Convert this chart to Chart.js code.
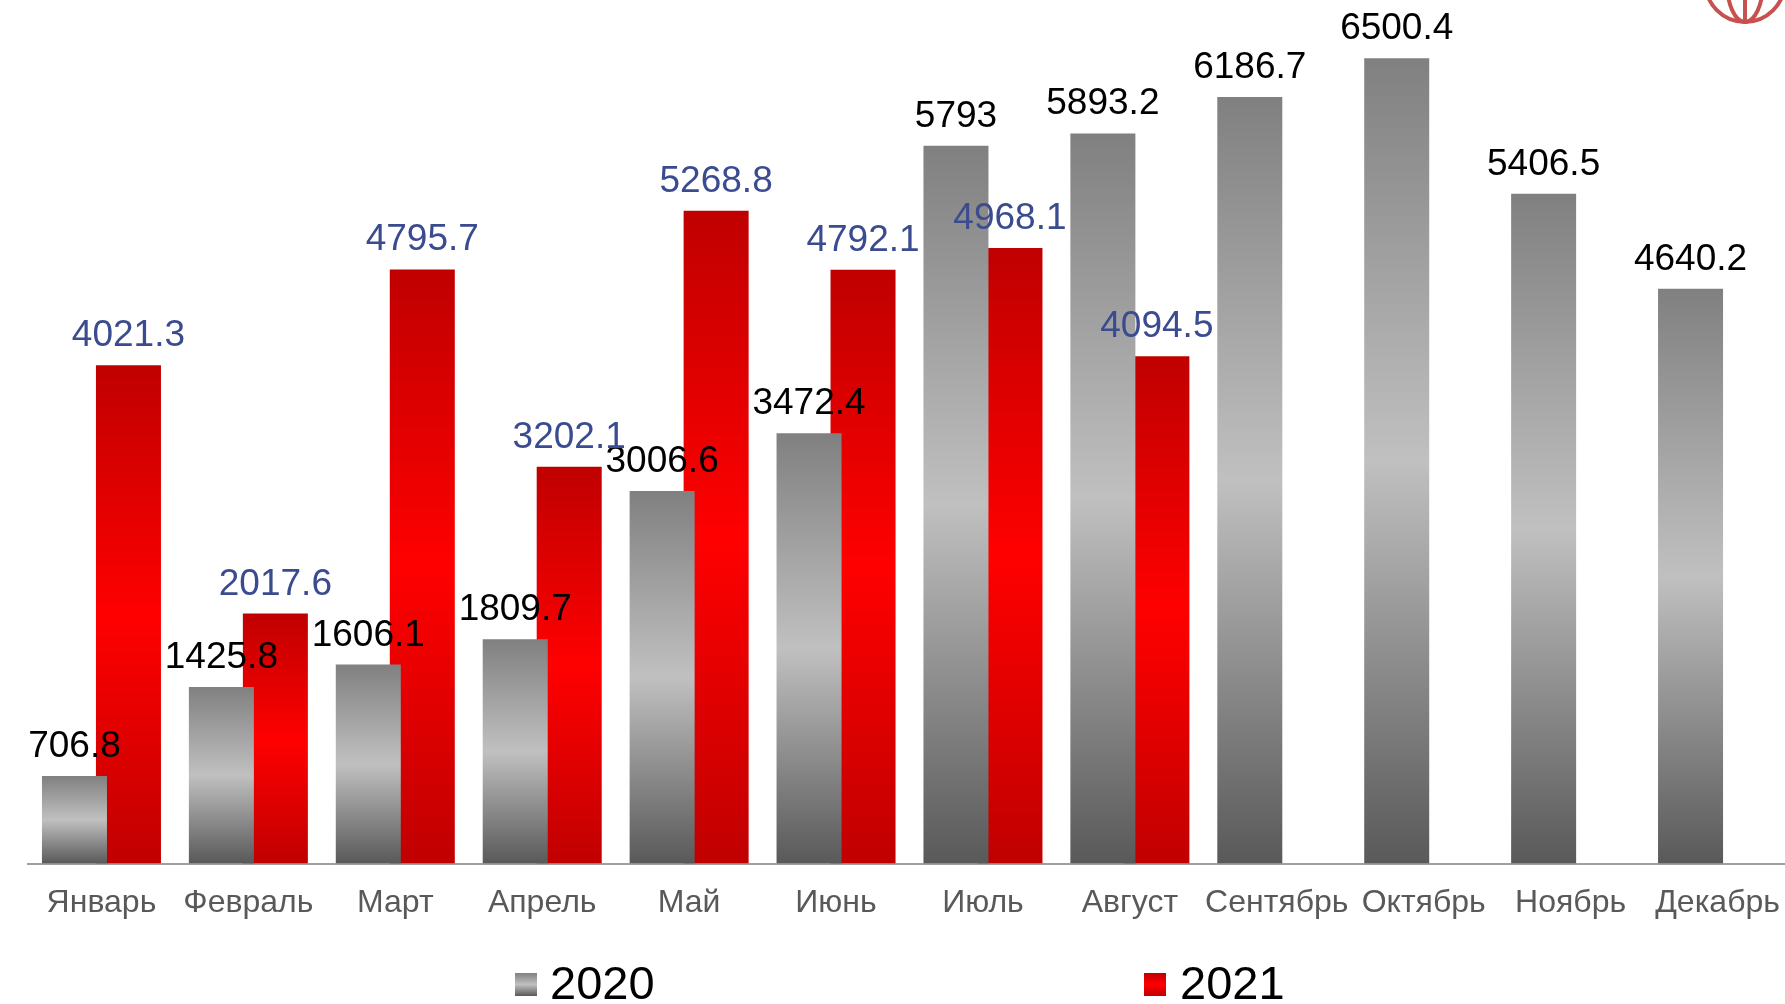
<!DOCTYPE html>
<html lang="ru">
<head>
<meta charset="utf-8">
<title>2020 / 2021</title>
<script src="https://cdn.jsdelivr.net/npm/chart.js@4.4.1/dist/chart.umd.min.js"></script>
<style>
  html, body { margin: 0; padding: 0; background: #fff; overflow: hidden; }
  #wrap { position: relative; width: 1792px; height: 1004px; }
  .legend-box { position: absolute; top: 973px; width: 22px; height: 23px; }
  .legend-text { position: absolute; top: 959px; font: 47px/47px "Liberation Sans", Arial, sans-serif; color: #000; }
  #logo { position: absolute; left: 1695px; top: 0; }
</style>
</head>
<body>
<div id="wrap">
  <canvas id="bar-chart" width="1792" height="1004"></canvas>
  <div class="legend-box" style="left:515px;background:linear-gradient(#808080,#c0c0c0,#595959)"></div>
  <div class="legend-text" style="left:550px">2020</div>
  <div class="legend-box" style="left:1144px;background:linear-gradient(#c00000,#ff0000,#c00000)"></div>
  <div class="legend-text" style="left:1180px">2021</div>
  <svg id="logo" width="100" height="30" viewBox="1695 0 100 30">
    <g fill="none" stroke="#c8504f" stroke-width="4">
      <circle cx="1745" cy="-17.6" r="39.6"/>
      <ellipse cx="1745" cy="-17.6" rx="18" ry="39.6"/>
      <line x1="1745" y1="0" x2="1745" y2="22"/>
    </g>
  </svg>
</div>
<script>
const months = ["Январь", "Февраль", "Март", "Апрель", "Май", "Июнь", "Июль", "Август", "Сентябрь", "Октябрь", "Ноябрь", "Декабрь"];
const values2020 = [706.8, 1425.8, 1606.1, 1809.7, 3006.6, 3472.4, 5793, 5893.2, 6186.7, 6500.4, 5406.5, 4640.2];
const values2021 = [4021.3, 2017.6, 4795.7, 3202.1, 5268.8, 4792.1, 4968.1, 4094.5, null, null, null, null];

const FONT = "'Liberation Sans', Arial, sans-serif";

// vertical gradient over each bar's own height: edge - middle - edge
const barGradient = (stops) => (ctx) => {
    if (ctx.type !== 'data' || ctx.raw == null) {
        return stops[1];
    }
    const chart = ctx.chart;
    const y = chart.scales.y;
    const top = y.getPixelForValue(ctx.raw);
    const base = y.getPixelForValue(0);
    if (!isFinite(top) || top === base) {
        return stops[1];
    }
    const g = chart.ctx.createLinearGradient(0, top, 0, base);
    g.addColorStop(0, stops[0]);
    g.addColorStop(0.5, stops[1]);
    g.addColorStop(1, stops[2]);
    return g;
};

const valueLabels = {
    id: 'valueLabels',
    afterDatasetsDraw(chart) {
        const ctx = chart.ctx;
        ctx.save();
        ctx.font = "37px " + FONT;
        ctx.textAlign = 'center';
        ctx.textBaseline = 'alphabetic';
        chart.data.datasets.forEach((ds, i) => {
            const meta = chart.getDatasetMeta(i);
            meta.data.forEach((bar, j) => {
                const v = ds.data[j];
                if (v == null) return;
                ctx.fillStyle = ds.labelColor;
                ctx.fillText(String(v), bar.x, bar.y - 19);
            });
        });
        ctx.restore();
    }
};

new Chart(document.getElementById("bar-chart"), {
    type: 'bar',
    data: {
        labels: months,
        datasets: [
            {
                label: '2020',
                data: values2020,
                backgroundColor: barGradient(["#808080", "#c0c0c0", "#595959"]),
                labelColor: "#000000"
            },
            {
                label: '2021',
                data: values2021,
                backgroundColor: barGradient(["#c00000", "#ff0000", "#c00000"]),
                labelColor: "#3b4b8f"
            }
        ]
    },
    options: {
        responsive: false,
        animation: false,
        categoryPercentage: 0.735,
        barPercentage: 1.204,
        layout: { padding: { left: 28, right: 1, top: 0, bottom: 72 } },
        plugins: {
            legend: { display: false },
            tooltip: { enabled: false }
        },
        scales: {
            x: {
                grid: { display: false, drawTicks: true, tickLength: 10 },
                border: { display: true, color: "#a0a0a0", width: 2 },
                ticks: { color: "#595959", font: { family: FONT, size: 32 }, padding: 10, maxRotation: 0, autoSkip: false }
            },
            y: {
                display: false,
                min: 0,
                max: 6970
            }
        }
    },
    plugins: [valueLabels]
});
</script>
</body>
</html>
